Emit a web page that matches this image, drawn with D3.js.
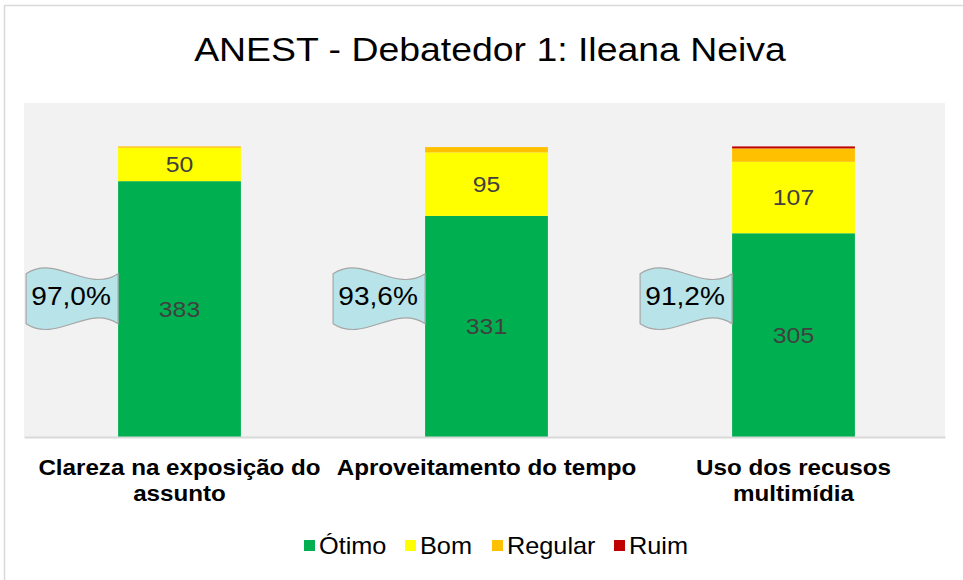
<!DOCTYPE html>
<html><head><meta charset="utf-8">
<script src="https://cdn.jsdelivr.net/npm/d3@7"></script>
<style>html,body{margin:0;padding:0;background:#fff;overflow:hidden}</style>
</head><body>
<svg id="chart" width="963" height="580"></svg>
<script>
const title = "ANEST - Debatedor 1: Ileana Neiva";
const categories = ["Clareza na exposição do assunto", "Aproveitamento do tempo", "Uso dos recusos multimídia"];
const categoryLines = [["Clareza na exposição do", "assunto"], ["Aproveitamento do tempo"], ["Uso dos recusos", "multimídia"]];
const seriesNames = ["Ótimo", "Bom", "Regular", "Ruim"];
const otimo = [383, 331, 305];
const bom = [50, 95, 107];
const regular = [2, 8, 20];
const ruim = [0, 0, 3];
const percentLabels = ["97,0%", "93,6%", "91,2%"];
const colors = ["#00b050", "#ffff00", "#ffc000", "#c00000"];
const yMax = 500;

const svg = d3.select("#chart");
const FONT = "'Liberation Sans', Arial, sans-serif";
const SX = 1.1;

// outer frame
svg.append("rect").attr("x", 4.5).attr("y", 5.5).attr("width", 1000).attr("height", 600)
  .attr("fill", "#fff").attr("stroke", "#d9d9d9").attr("stroke-width", 1.5);

const plot = {left: 24, right: 945, top: 103, bottom: 437};
svg.append("rect").attr("x", plot.left).attr("y", plot.top)
  .attr("width", plot.right - plot.left).attr("height", plot.bottom - plot.top).attr("fill", "#f2f2f2");

const x = d3.scaleBand().domain(categories).range([plot.left + 2, plot.right + 2]).paddingInner(0.6).paddingOuter(0.3);
const y = d3.scaleLinear().domain([0, yMax]).range([plot.bottom, plot.top]);

const rows = categories.map((c, i) => ({cat: c, "Ótimo": otimo[i], "Bom": bom[i], "Regular": regular[i], "Ruim": ruim[i]}));
const stack = d3.stack().keys(seriesNames)(rows);

function txt(g, s, cx, cy, size, opts = {}) {
  return g.append("text")
    .attr("transform", `translate(${cx},${cy}) scale(${opts.sx || SX},1)`)
    .attr("text-anchor", opts.anchor || "middle")
    .attr("dominant-baseline", "central")
    .attr("font-family", FONT).attr("font-size", size)
    .attr("font-weight", opts.weight || "normal")
    .attr("fill", opts.fill || "#000")
    .text(s);
}

stack.forEach((layer, si) => {
  svg.append("g").selectAll("rect").data(layer).join("rect")
    .attr("x", d => x(d.data.cat))
    .attr("width", x.bandwidth())
    .attr("y", d => y(d[1]))
    .attr("height", d => y(d[0]) - y(d[1]))
    .attr("fill", colors[si]);
});

// data labels for Ótimo and Bom
const lab = svg.append("g");
[0, 1].forEach(si => {
  stack[si].forEach(d => {
    txt(lab, d[1] - d[0], x(d.data.cat) + x.bandwidth() / 2, (y(d[0]) + y(d[1])) / 2, 22.5, {fill: "#404040"});
  });
});

// axis line
const xAxis = svg.append("g").attr("transform", `translate(0,${plot.bottom})`)
  .call(d3.axisBottom(x.copy().range([plot.left, plot.right])).tickSize(0).tickFormat(""));
xAxis.select(".domain").attr("stroke", "#d9d9d9").attr("stroke-width", 2);

// category labels
const catG = svg.append("g");
categories.forEach((c, i) => {
  categoryLines[i].forEach((line, li) => {
    txt(catG, line, x(c) + x.bandwidth() / 2, 467 + li * 26, 22, {weight: "bold"});
  });
});

// wave callouts
const waveG = svg.append("g");
categories.forEach((c, i) => {
  const r = x(c), w = 92, l = r - w;
  const cy = y(210);
  const tT = cy - 23, tB = cy + 27, c1 = 20;
  const path = `M${l},${tT} C${l + w * 0.33},${tT - c1} ${l + w * 0.67},${tT + c1} ${r},${tT}
    L${r},${tB} C${r - w * 0.33},${tB - c1} ${r - w * 0.67},${tB + c1} ${l},${tB} Z`;
  waveG.append("path").attr("d", path).attr("fill", "#b7e3e9").attr("stroke", "#a6a6a6").attr("stroke-width", 1.2);
  txt(waveG, percentLabels[i], l + w / 2 - 1, cy, 25.5, {fill: "#000"});
});

// title
txt(svg, title, 490, 50, 34);

// legend
const legend = [{n: "Ótimo", x: 304}, {n: "Bom", x: 405}, {n: "Regular", x: 492}, {n: "Ruim", x: 614}];
const lg = svg.append("g");
legend.forEach((d, i) => {
  lg.append("rect").attr("x", d.x).attr("y", 540).attr("width", 11).attr("height", 11).attr("fill", colors[i]);
  txt(lg, d.n, d.x + 15, 546, 23, {anchor: "start"});
});
</script>
</body></html>
